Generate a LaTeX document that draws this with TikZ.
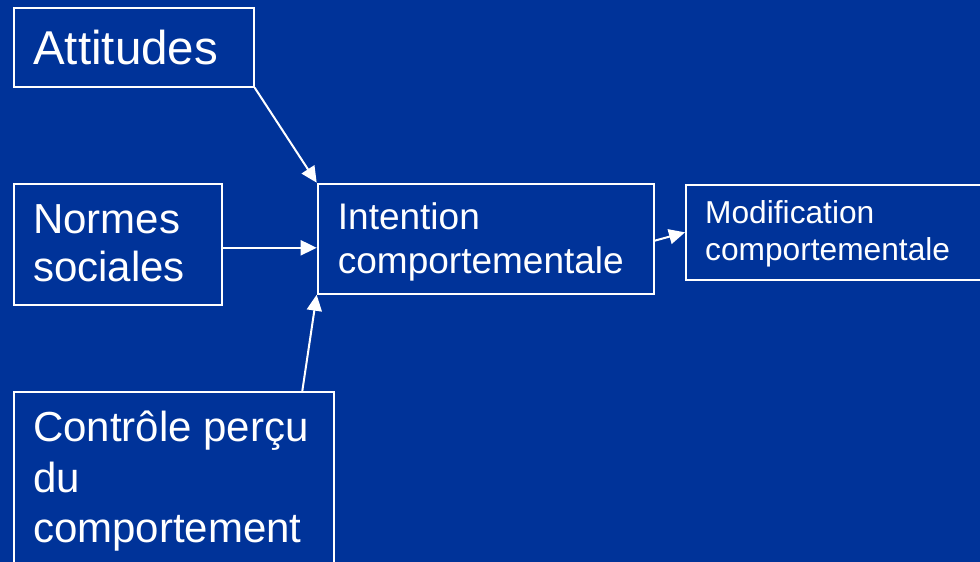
\documentclass[tikz,border=0pt]{standalone}
\usepackage{fontspec}
\setmainfont{Liberation Sans}
\usetikzlibrary{arrows.meta,calc}
\definecolor{bg}{RGB}{0,51,153}
\begin{document}
\begin{tikzpicture}[x=1pt,y=-1pt,
  box/.style={draw=white,line width=2pt,inner sep=0pt,anchor=north west},
  lbl/.style={text=white,inner sep=0pt,anchor=base west},
  arr/.style={draw=white,line width=2pt,-{Triangle[length=16pt,width=15pt]}}]
\fill[bg] (0,0) rectangle (980,562);
\useasboundingbox (0,0) rectangle (980,562);
\clip (0,0) rectangle (980,562);
% boxes
\node[box,minimum width=240pt,minimum height=79pt] (att) at (12.7,6.7) {};
\node[box,minimum width=208pt,minimum height=121pt] (norm) at (13,183.3) {};
\node[box,minimum width=320.6pt,minimum height=190pt] (ctrl) at (12.7,391) {};
\node[box,minimum width=336pt,minimum height=110pt] (int) at (316.7,182.7) {};
\node[box,minimum width=310pt,minimum height=94.7pt] (mod) at (685,184) {};
% texts
\node[lbl,font=\fontsize{47.5}{54}\selectfont] (attT) at (33,64) {Attitudes};
\node[lbl,font=\fontsize{42}{48.3}\selectfont] (normT) at (33,233.3) {\parbox[t]{200pt}{\raggedright Normes\\sociales}};
\node[lbl,font=\fontsize{42}{50.5}\selectfont] (ctrlT) at (33,441.7) {\parbox[t]{310pt}{\raggedright Contrôle perçu\\du\\comportement}};
\node[lbl,font=\fontsize{37}{43.3}\selectfont] (intT) at (337.7,229.7) {\parbox[t]{320pt}{\raggedright Intention\\comportementale}};
\node[lbl,font=\fontsize{31.7}{36.7}\selectfont] (modT) at (705,223.3) {\parbox[t]{280pt}{\raggedright Modification\\comportementale}};
% connectors
\draw[arr] (att.south east) -- (int.north west);
\draw[arr] ([yshift=-3pt]norm.east) -- ([yshift=-3pt]norm.east -| int.west);
\coordinate (ctrlS) at ($(ctrl.north east)+(-33,0)$);
\draw[arr] (ctrlS) -- (int.south west);
\draw[arr] ([yshift=-2pt]int.east) -- (mod.west);
\end{tikzpicture}
\end{document}
